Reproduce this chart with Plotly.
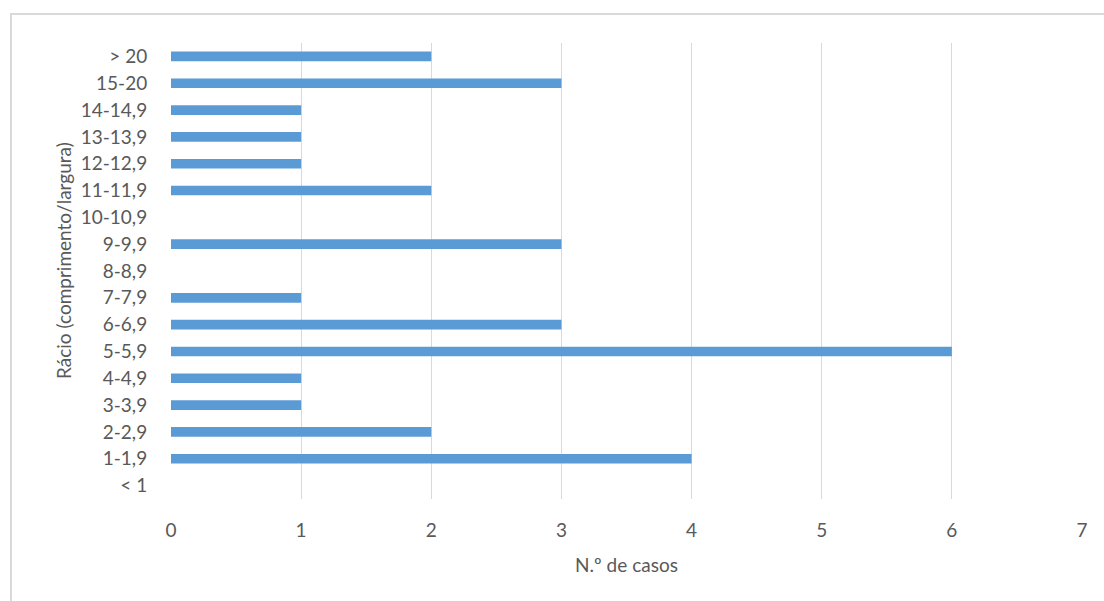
import plotly.graph_objects as go

categories = ["< 1", "1-1,9", "2-2,9", "3-3,9", "4-4,9", "5-5,9", "6-6,9", "7-7,9",
              "8-8,9", "9-9,9", "10-10,9", "11-11,9", "12-12,9", "13-13,9", "14-14,9",
              "15-20", "> 20"]
values = [0, 4, 2, 1, 1, 6, 3, 1, 0, 3, 0, 2, 1, 1, 1, 3, 2]
x_ticks = [0, 1, 2, 3, 4, 5, 6, 7]

FONT = "Lato"
TXT = "#595959"
FS = 19

fig = go.Figure(go.Bar(
    x=values, y=categories, orientation="h",
    marker=dict(color="#5b9bd5", line=dict(width=0)),
    width=0.36,
))

L, R, T, B = 171, 22, 43, 102
W, H = 1104, 601
pw, ph = W - L - R, H - T - B

fig.update_layout(
    width=W, height=H,
    margin=dict(l=L, r=R, t=T, b=B),
    paper_bgcolor="white", plot_bgcolor="white",
    showlegend=False,
    font=dict(family=FONT, color=TXT, size=FS),
    xaxis=dict(
        range=[0, 7], tickvals=x_ticks, showgrid=True, gridcolor="#d9d9d9", gridwidth=1.3,
        zeroline=False, showline=False, ticks="outside", ticklen=14, tickcolor="rgba(0,0,0,0)",
        tickfont=dict(family=FONT, color=TXT, size=FS),
        title=dict(text="N.º de casos", font=dict(family=FONT, color=TXT, size=FS), standoff=18),
    ),
    yaxis=dict(
        categoryorder="array", categoryarray=categories,
        range=[-0.5, len(categories) - 0.5],
        showgrid=False, zeroline=False, showline=False,
        ticks="outside", ticklen=19, tickcolor="rgba(0,0,0,0)",
        tickfont=dict(family=FONT, color=TXT, size=FS),
    ),
    annotations=[dict(
        text="Rácio (comprimento/largura)", textangle=-90,
        xref="paper", yref="paper",
        x=(63 - L) / pw, y=((H - B) - 261) / ph,
        xanchor="center", yanchor="middle", showarrow=False,
        font=dict(family=FONT, color=TXT, size=FS),
    )],
    shapes=[dict(
        type="rect", xref="paper", yref="paper",
        x0=(11 - L) / pw, x1=(1110 - L) / pw,
        y0=-(610 - (H - B)) / ph, y1=((H - B) - 14) / ph,
        line=dict(color="#d9d9d9", width=2), fillcolor="rgba(0,0,0,0)", layer="below",
    )],
)

fig.write_html("out.html")
